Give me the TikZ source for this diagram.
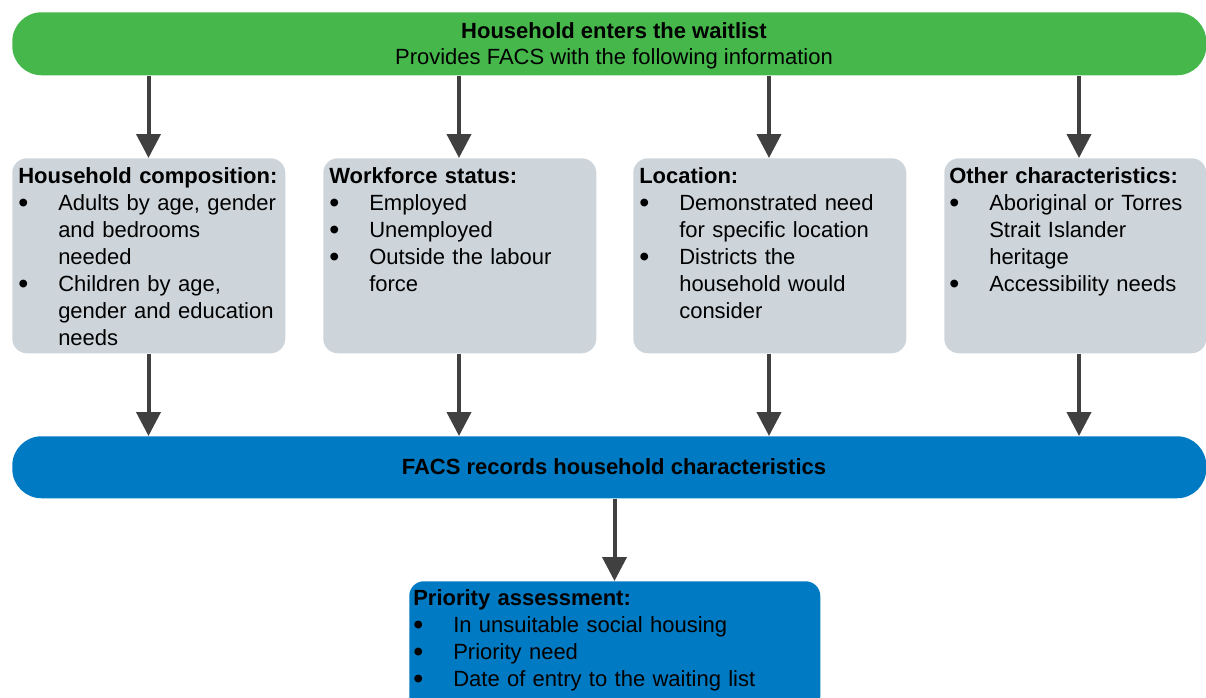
\documentclass[tikz,border=0pt]{standalone}
\usepackage{fontspec}
\setmainfont{Liberation Sans}
\usetikzlibrary{arrows.meta}
\definecolor{barG}{RGB}{70,184,75}
\definecolor{boxGray}{RGB}{205,213,219}
\definecolor{barB}{RGB}{0,122,194}
\definecolor{arr}{RGB}{64,64,64}
\newcommand{\bigbul}{\raisebox{-1.8pt}{\scalebox{1.3}{\textbullet}}}
\newcommand{\bitem}[1]{\par\hangindent=30pt\hangafter=1\noindent\makebox[30pt][l]{\bigbul}#1\par}
\begin{document}
\begin{tikzpicture}[x=0.75pt,y=-0.75pt,
  bar/.style={rounded corners=22pt, inner sep=0pt, anchor=north west, minimum width=895.5pt},
  gbox/.style={fill=boxGray, rounded corners=11pt, inner sep=0pt, anchor=north west, minimum width=204.75pt, minimum height=146.25pt},
  txt/.style={font=\fontsize{16.5}{20.25}\selectfont, inner sep=0pt},
  txtb/.style={font=\fontsize{16.5}{20.25}\selectfont\bfseries, inner sep=0pt},
  list/.style={txt, anchor=base west, text width=250pt, align=left},
  flow/.style={draw=arr, line width=3pt, -{Triangle[width=18pt,length=18pt]}}]
\useasboundingbox (0,0) rectangle (1206,697);
\clip (0,0) rectangle (1206,697);
% bars
\node[bar, fill=barG, minimum height=47.25pt] (top) at (12,12) {};
\node[bar, fill=barB, minimum height=46.5pt] (rec) at (12,436) {};
\node[txtb, anchor=base] (t1) at (614,38) {Household enters the waitlist};
\node[txt, anchor=base] (t2) at (614,64) {Provides FACS with the following information};
\node[txtb, anchor=base] (t3) at (614,474) {FACS records household characteristics};
% grey boxes
\node[gbox] (b1) at (12,158) {};
\node[gbox] (b2) at (323,158) {};
\node[gbox] (b3) at (633,158) {};
\node[gbox, minimum width=196.5pt] (b4) at (944,158) {};
\node[list] (l1) at (18,183) {\textbf{Household composition:}\par
  \bitem{Adults by age, gender\newline and bedrooms\newline needed}%
  \bitem{Children by age,\newline gender and education\newline needs}};
\node[list] (l2) at (329,183) {\textbf{Workforce status:}\par
  \bitem{Employed}\bitem{Unemployed}\bitem{Outside the labour\newline force}};
\node[list] (l3) at (639,183) {\textbf{Location:}\par
  \bitem{Demonstrated need\newline for specific location}%
  \bitem{Districts the\newline household would\newline consider}};
\node[list] (l4) at (949,183) {\textbf{Other characteristics:}\par
  \bitem{Aboriginal or Torres\newline Strait Islander\newline heritage}%
  \bitem{Accessibility needs}};
% priority box
\node[bar, fill=barB, rounded corners=11pt, minimum width=308.25pt, minimum height=97.5pt] (prio) at (409,581) {};
\node[list, text width=300pt] (l5) at (413,605) {\textbf{Priority assessment:}\par
  \bitem{In unsuitable social housing}\bitem{Priority need}\bitem{Date of entry to the waiting list}};
% arrows
\coordinate (x1) at (148.5,0);
\coordinate (x2) at (459,0);
\coordinate (x3) at (769,0);
\coordinate (x4) at (1079,0);
\coordinate (x5) at (614.5,0);
\foreach \i in {1,2,3,4}{
  \draw[flow] (top.south -| x\i) -- (b\i.north -| x\i);
  \draw[flow] (b\i.south -| x\i) -- (rec.north -| x\i);
}
\draw[flow] (rec.south -| x5) -- (prio.north -| x5);
\end{tikzpicture}
\end{document}
